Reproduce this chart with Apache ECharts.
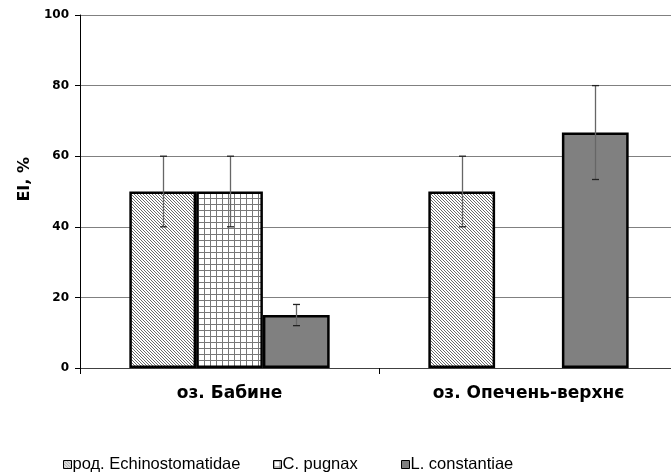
<!DOCTYPE html>
<html>
<head>
<meta charset="utf-8">
<script src="https://cdn.jsdelivr.net/npm/echarts@6/dist/echarts.min.js"></script>
<style>html,body{margin:0;padding:0;background:#fff;overflow:hidden;}#c{width:680px;height:475px;}</style>
</head>
<body>
<div id="c"></div>
<script>
// ---- data ----
var categories = ['оз. Бабине', 'оз. Опечень-верхнє'];
var seriesNames = ['род. Echinostomatidae', 'C. pugnax', 'L. constantiae'];
var echinoMean = [50, 50];
var echinoErr = [10, 10];
var pugnaxMean = [50, null];
var pugnaxErr = [10, null];
var constMean = [15, 66.7];
var constErr = [3, 13.3];
var yTicks = [0, 20, 40, 60, 80, 100];

function makeDiag() {
  var c = document.createElement('canvas');
  c.width = 3; c.height = 3;
  var g = c.getContext('2d');
  g.fillStyle = '#fff'; g.fillRect(0, 0, 3, 3);
  g.fillStyle = '#6a6a6a';
  for (var i = 0; i < 3; i++) g.fillRect(i, i, 1, 1);
  return c;
}
function makeGrid() {
  var c = document.createElement('canvas');
  c.width = 6; c.height = 6;
  var g = c.getContext('2d');
  g.fillStyle = '#fff'; g.fillRect(0, 0, 6, 6);
  g.fillStyle = '#777';
  g.fillRect(0, 0, 6, 1);
  g.fillRect(0, 0, 1, 6);
  return c;
}
var diagColor = {image: makeDiag(), repeat: 'repeat'};
var gridColor = {image: makeGrid(), repeat: 'repeat'};
var grayColor = '#808080';

var means = [echinoMean, pugnaxMean, constMean];
var errs = [echinoErr, pugnaxErr, constErr];
var errData = [];
for (var s = 0; s < 3; s++) {
  for (var k = 0; k < categories.length; k++) {
    if (means[s][k] != null) {
      errData.push([k, means[s][k] - errs[s][k], means[s][k] + errs[s][k], s]);
    }
  }
}

var chart = echarts.init(document.getElementById('c'), null, {renderer: 'canvas'});
var FONT = 'DejaVu Sans';

function legendFor(i, left) {
  return {
    data: [seriesNames[i]],
    left: left, top: 456, padding: 0,
    icon: 'rect', itemWidth: 8, itemHeight: 8, itemGap: 0,
    itemStyle: {borderColor: '#000', borderWidth: 1},
    textStyle: {fontFamily: 'Liberation Sans', fontSize: 16.5, color: '#000', padding: [0, 0, 0, -4]},
    selectedMode: false
  };
}

var option = {
  animation: false,
  backgroundColor: '#fff',
  grid: {left: 80, right: 2, top: 15, bottom: 107, containLabel: false},
  graphic: [{
    type: 'text',
    left: 17, top: 157,
    rotation: Math.PI / 2,
    style: {text: 'EI, %', fontFamily: FONT, fontSize: 16, fontWeight: 'bold', fill: '#000'}
  }],
  legend: [legendFor(0, 63), legendFor(1, 273), legendFor(2, 401)],
  xAxis: {
    type: 'category',
    data: categories,
    axisLine: {lineStyle: {color: '#404040', width: 1}},
    axisTick: {show: true, length: 6, lineStyle: {color: '#000'}},
    axisLabel: {fontFamily: FONT, fontSize: 17, fontWeight: 'bold', color: '#000', margin: 17}
  },
  yAxis: {
    type: 'value',
    min: yTicks[0], max: yTicks[yTicks.length - 1], interval: 20,
    axisLine: {show: true, lineStyle: {color: '#000', width: 1}},
    axisTick: {show: true, length: 5, lineStyle: {color: '#000'}},
    axisLabel: {fontFamily: FONT, fontSize: 12, fontWeight: 'bold', color: '#000', margin: 11},
    splitLine: {lineStyle: {color: '#808080', width: 1}}
  },
  series: [
    {name: seriesNames[0], type: 'bar', data: echinoMean, barGap: 0, barCategoryGap: '33%',
     itemStyle: {color: diagColor, borderColor: '#000', borderWidth: 2.5}},
    {name: seriesNames[1], type: 'bar', data: pugnaxMean, barGap: 0, barCategoryGap: '33%',
     itemStyle: {color: gridColor, borderColor: '#000', borderWidth: 2.5}},
    {name: seriesNames[2], type: 'bar', data: constMean, barGap: 0, barCategoryGap: '33%',
     itemStyle: {color: grayColor, borderColor: '#000', borderWidth: 2.5}},
    {
      type: 'custom', z: 10, silent: true, clip: false,
      data: errData,
      encode: {x: 0, y: [1, 2]},
      renderItem: function (params, api) {
        var cat = api.value(0), lo = api.value(1), hi = api.value(2), si = api.value(3);
        var band = api.size([1, 0])[0];
        var bw = band * 0.67 / 3;
        var pLo = api.coord([cat, lo]);
        var pHi = api.coord([cat, hi]);
        var x = Math.round(pLo[0] + (si - 1) * bw) + 0.5;
        var cw = 3.5;
        return {
          type: 'group',
          children: [
            {type: 'line', shape: {x1: x, y1: pLo[1], x2: x, y2: pHi[1]}, style: {stroke: '#666', lineWidth: 1.3}},
            {type: 'line', shape: {x1: x - cw, y1: pHi[1], x2: x + cw, y2: pHi[1]}, style: {stroke: '#222', lineWidth: 1.3}},
            {type: 'line', shape: {x1: x - cw, y1: pLo[1], x2: x + cw, y2: pLo[1]}, style: {stroke: '#222', lineWidth: 1.3}}
          ]
        };
      }
    }
  ]
};
chart.setOption(option);
</script>
</body>
</html>
